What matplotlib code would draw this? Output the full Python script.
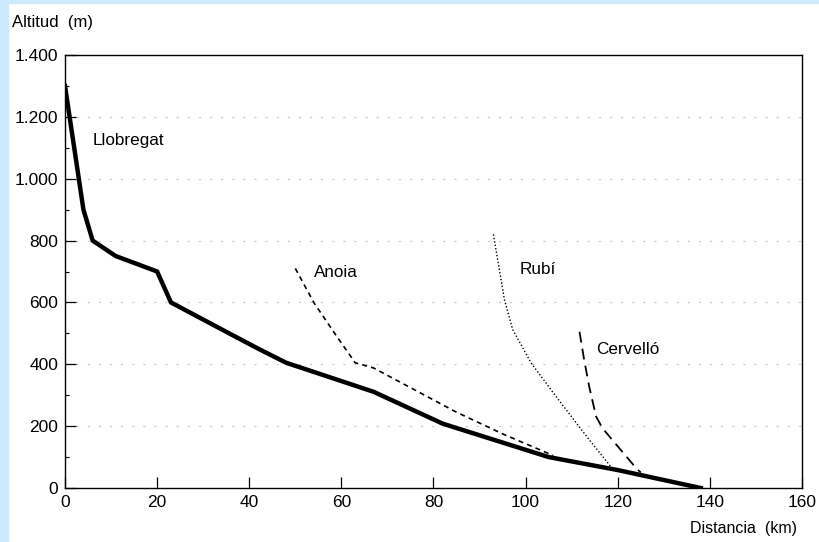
import matplotlib
matplotlib.use("Agg")
import matplotlib.pyplot as plt
from matplotlib.patches import Rectangle
from matplotlib.ticker import FuncFormatter, MultipleLocator

plt.rcParams['font.family'] = ['Liberation Sans', 'DejaVu Sans']

# Data (distance km, altitude m)
llobregat_x = [0, 4, 6, 11, 20, 23, 35, 42, 48, 67, 82, 105, 120, 138]
llobregat_y = [1300, 900, 800, 750, 700, 600, 505, 450, 405, 311, 208, 100, 58, 0]

anoia_x = [50, 54, 59, 63, 67, 85, 95, 106]
anoia_y = [710, 600, 490, 405, 388, 245, 175, 105]

rubi_x = [93, 95.4, 97.2, 101.2, 106.6, 113.8, 118.5, 119]
rubi_y = [820, 609, 512, 404, 296, 156, 69, 60]

cervello_x = [111.7, 112.7, 113.8, 115.3, 116.7, 124, 125]
cervello_y = [505, 415, 328, 231, 193, 64, 50]

labels = {"Llobregat": (6, 1125), "Anoia": (54, 697), "Rubí": (98.6, 706), "Cervelló": (115.3, 447)}

xticks = [0, 20, 40, 60, 80, 100, 120, 140, 160]
yticks = [0, 200, 400, 600, 800, 1000, 1200, 1400]

fig = plt.figure(figsize=(8.2, 5.42), dpi=100)
fig.patch.set_facecolor('white')
fig.add_artist(Rectangle((0, 0), 8 / 820, 1, transform=fig.transFigure, color='#cce9fd', zorder=0))
fig.add_artist(Rectangle((0, 1 - 3 / 542), 1, 3 / 542, transform=fig.transFigure, color='#cce9fd', zorder=0))

ax = fig.add_axes([65 / 820, 1 - 488 / 542, (802 - 65) / 820, (488 - 55) / 542])
ax.set_xlim(0, 160)
ax.set_ylim(0, 1400)

for y in yticks[1:-1]:
    ax.axhline(y, color='#c8c8c8', linestyle=(0, (2, 8)), linewidth=0.8, zorder=1)

ax.plot(llobregat_x, llobregat_y, color='black', linewidth=3.2, solid_joinstyle='round', zorder=3)
ax.plot(anoia_x, anoia_y, color='black', linewidth=1.2, linestyle=(0, (3, 2.5)), zorder=3)
ax.plot(rubi_x, rubi_y, color='black', linewidth=1.0, linestyle=(0, (1, 1.5)), zorder=3)
ax.plot(cervello_x, cervello_y, color='black', linewidth=1.3, linestyle=(0, (6, 3.5)), zorder=3)

for name, (lx, ly) in labels.items():
    ax.text(lx, ly, name, fontsize=12.3, ha='left', va='center')

ax.set_xticks(xticks)
ax.set_yticks(yticks)
ax.yaxis.set_minor_locator(MultipleLocator(100))
ax.yaxis.set_major_formatter(FuncFormatter(lambda v, p: f"{int(v):,}".replace(",", ".")))
ax.tick_params(axis='both', which='major', direction='in', length=8, width=0.9, labelsize=12.5, pad=5)
ax.tick_params(axis='y', which='minor', direction='in', length=3, width=0.8)
for s in ax.spines.values():
    s.set_linewidth(1.0)

fig.text(12 / 820, 1 - 22 / 542, "Altitud  (m)", fontsize=12, ha='left', va='center')
fig.text(797 / 820, 1 - 528 / 542, "Distancia  (km)", fontsize=11.5, ha='right', va='center')

fig.savefig("out.png", dpi=100)
